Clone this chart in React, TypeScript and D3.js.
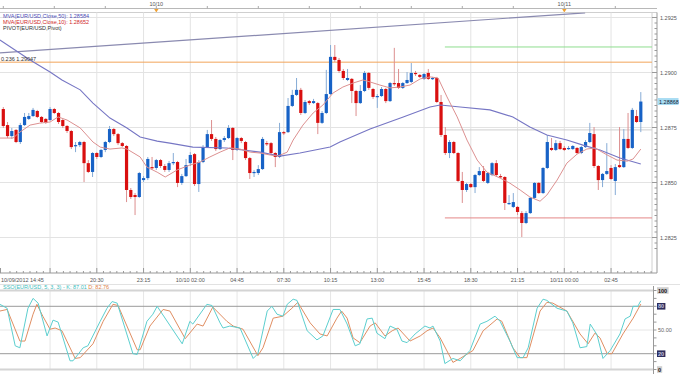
import React from 'react';
import * as d3 from 'd3';

// ---------- DATA (EUR/USD 15-min candles) ----------
const openP = [
  1.28834, 1.28761, 1.28711, 1.28739, 1.28684, 1.28761, 1.28789, 1.28802, 1.28825, 1.28798,
  1.28789, 1.28784, 1.28834, 1.28816, 1.28784, 1.28757, 1.28734, 1.28666, 1.28670, 1.28684,
  1.28588, 1.28548, 1.28634, 1.28616, 1.28648, 1.28684, 1.28743, 1.28720, 1.28679, 1.28666,
  1.28466, 1.28443, 1.28434, 1.28511, 1.28520, 1.28570, 1.28566, 1.28602, 1.28575, 1.28557,
  1.28588, 1.28593, 1.28498, 1.28529, 1.28588, 1.28629, 1.28493, 1.28593, 1.28661, 1.28720,
  1.28698, 1.28652, 1.28693, 1.28702, 1.28748, 1.28648, 1.28702, 1.28684, 1.28611, 1.28543,
  1.28543, 1.28561, 1.28679, 1.28679, 1.28634, 1.28616, 1.28729, 1.28729, 1.28848, 1.28898,
  1.28921, 1.28816, 1.28870, 1.28861, 1.28861, 1.28771, 1.28816, 1.28902, 1.29071, 1.29057,
  1.29007, 1.28966, 1.28971, 1.28916, 1.28861, 1.28916, 1.28998, 1.28925, 1.28889, 1.28893,
  1.28925, 1.28870, 1.28952, 1.28952, 1.28930, 1.28952, 1.28957, 1.28998, 1.28989, 1.28971,
  1.28998, 1.28971, 1.28975, 1.28866, 1.28716, 1.28634, 1.28684, 1.28634, 1.28507, 1.28466,
  1.28493, 1.28479, 1.28534, 1.28552, 1.28498, 1.28534, 1.28588, 1.28529, 1.28525, 1.28402,
  1.28389, 1.28389, 1.28361, 1.28316, 1.28361, 1.28430, 1.28498, 1.28452, 1.28566, 1.28657,
  1.28648, 1.28679, 1.28657, 1.28652, 1.28652, 1.28657, 1.28634, 1.28661, 1.28684, 1.28720,
  1.28575, 1.28511, 1.28539, 1.28566, 1.28507, 1.28579, 1.28570, 1.28698, 1.28657, 1.28802,
  1.28775,
];
const highP = [
  1.28843, 1.28775, 1.28748, 1.28743, 1.28771, 1.28816, 1.28816, 1.28839, 1.28830, 1.28802,
  1.28793, 1.28843, 1.28839, 1.28820, 1.28789, 1.28761, 1.28739, 1.28684, 1.28689, 1.28689,
  1.28602, 1.28638, 1.28638, 1.28652, 1.28689, 1.28757, 1.28748, 1.28725, 1.28684, 1.28670,
  1.28475, 1.28452, 1.28548, 1.28529, 1.28616, 1.28616, 1.28607, 1.28607, 1.28584, 1.28598,
  1.28634, 1.28598, 1.28539, 1.28607, 1.28638, 1.28634, 1.28602, 1.28670, 1.28739, 1.28784,
  1.28707, 1.28698, 1.28711, 1.28761, 1.28752, 1.28707, 1.28707, 1.28689, 1.28616, 1.28557,
  1.28579, 1.28707, 1.28689, 1.28684, 1.28638, 1.28771, 1.28734, 1.28884, 1.28921, 1.28975,
  1.28930, 1.28875, 1.28875, 1.28880, 1.28866, 1.28825, 1.29012, 1.29125, 1.29125, 1.29066,
  1.29016, 1.29016, 1.28975, 1.28921, 1.28943, 1.29007, 1.29002, 1.28930, 1.28902, 1.28934,
  1.28930, 1.28957, 1.29112, 1.29016, 1.28957, 1.29002, 1.29043, 1.29007, 1.28993, 1.28998,
  1.29016, 1.28980, 1.28980, 1.28898, 1.28752, 1.28693, 1.28689, 1.28638, 1.28548, 1.28498,
  1.28498, 1.28539, 1.28570, 1.28575, 1.28548, 1.28593, 1.28602, 1.28539, 1.28529, 1.28443,
  1.28452, 1.28393, 1.28370, 1.28370, 1.28434, 1.28502, 1.28502, 1.28570, 1.28716, 1.28702,
  1.28693, 1.28689, 1.28666, 1.28666, 1.28670, 1.28661, 1.28666, 1.28693, 1.28771, 1.28752,
  1.28579, 1.28543, 1.28679, 1.28579, 1.28584, 1.28752, 1.28743, 1.28816, 1.28839, 1.28830,
  1.28911,
];
const lowP = [
  1.28748, 1.28702, 1.28698, 1.28679, 1.28675, 1.28757, 1.28784, 1.28798, 1.28793, 1.28771,
  1.28766, 1.28780, 1.28811, 1.28766, 1.28748, 1.28725, 1.28652, 1.28638, 1.28661, 1.28502,
  1.28543, 1.28525, 1.28607, 1.28611, 1.28638, 1.28679, 1.28711, 1.28670, 1.28661, 1.28411,
  1.28425, 1.28352, 1.28430, 1.28502, 1.28511, 1.28557, 1.28557, 1.28566, 1.28548, 1.28548,
  1.28579, 1.28479, 1.28489, 1.28525, 1.28575, 1.28484, 1.28457, 1.28588, 1.28657, 1.28689,
  1.28643, 1.28648, 1.28684, 1.28698, 1.28602, 1.28643, 1.28679, 1.28602, 1.28516, 1.28525,
  1.28534, 1.28557, 1.28666, 1.28625, 1.28570, 1.28611, 1.28716, 1.28725, 1.28843, 1.28893,
  1.28807, 1.28811, 1.28852, 1.28857, 1.28720, 1.28766, 1.28811, 1.28898, 1.29048, 1.28998,
  1.28966, 1.28961, 1.28861, 1.28802, 1.28857, 1.28911, 1.28921, 1.28880, 1.28839, 1.28889,
  1.28861, 1.28866, 1.28939, 1.28925, 1.28925, 1.28948, 1.28952, 1.28984, 1.28975, 1.28966,
  1.28966, 1.28966, 1.28861, 1.28707, 1.28625, 1.28611, 1.28629, 1.28502, 1.28407, 1.28457,
  1.28475, 1.28452, 1.28529, 1.28502, 1.28493, 1.28529, 1.28529, 1.28520, 1.28375, 1.28398,
  1.28384, 1.28352, 1.28252, 1.28311, 1.28357, 1.28425, 1.28448, 1.28448, 1.28561, 1.28643,
  1.28643, 1.28648, 1.28643, 1.28648, 1.28648, 1.28629, 1.28629, 1.28657, 1.28679, 1.28566,
  1.28466, 1.28479, 1.28534, 1.28511, 1.28443, 1.28566, 1.28566, 1.28652, 1.28652, 1.28771,
  1.28729,
];
const closeP = [
  1.28757, 1.28711, 1.28734, 1.28684, 1.28761, 1.28798, 1.28802, 1.28830, 1.28798, 1.28775,
  1.28771, 1.28834, 1.28816, 1.28775, 1.28757, 1.28734, 1.28661, 1.28670, 1.28684, 1.28588,
  1.28548, 1.28634, 1.28616, 1.28648, 1.28684, 1.28743, 1.28720, 1.28679, 1.28666, 1.28466,
  1.28434, 1.28434, 1.28543, 1.28520, 1.28607, 1.28566, 1.28602, 1.28575, 1.28557, 1.28588,
  1.28593, 1.28498, 1.28529, 1.28579, 1.28625, 1.28493, 1.28593, 1.28661, 1.28720, 1.28698,
  1.28652, 1.28693, 1.28702, 1.28748, 1.28648, 1.28702, 1.28689, 1.28611, 1.28543, 1.28548,
  1.28561, 1.28698, 1.28675, 1.28634, 1.28616, 1.28729, 1.28725, 1.28848, 1.28898, 1.28921,
  1.28816, 1.28866, 1.28861, 1.28870, 1.28771, 1.28816, 1.28902, 1.29071, 1.29057, 1.29007,
  1.28975, 1.28975, 1.28916, 1.28861, 1.28916, 1.28998, 1.28930, 1.28889, 1.28893, 1.28925,
  1.28870, 1.28952, 1.28948, 1.28930, 1.28952, 1.28966, 1.28998, 1.28993, 1.28980, 1.28993,
  1.28971, 1.28975, 1.28866, 1.28716, 1.28634, 1.28684, 1.28634, 1.28507, 1.28466, 1.28493,
  1.28479, 1.28534, 1.28552, 1.28507, 1.28543, 1.28588, 1.28534, 1.28525, 1.28407, 1.28407,
  1.28411, 1.28366, 1.28316, 1.28361, 1.28430, 1.28498, 1.28452, 1.28566, 1.28684, 1.28648,
  1.28679, 1.28652, 1.28648, 1.28657, 1.28666, 1.28634, 1.28661, 1.28684, 1.28725, 1.28575,
  1.28511, 1.28539, 1.28552, 1.28516, 1.28570, 1.28570, 1.28698, 1.28657, 1.28830, 1.28775,
  1.28868,
];

// moving averages: [candle index, price]
const ma50Pts = [
  [-0.8, 1.29148], [6.3, 1.29057], [11.0, 1.29002], [13.8, 1.28966], [18.1, 1.28921], [21.1, 1.28861],
  [25.1, 1.28793], [29.1, 1.28748], [32.2, 1.28707], [36.2, 1.28688], [39.2, 1.28679], [44.6, 1.28661],
  [52.6, 1.28657], [60.4, 1.28638], [65.1, 1.28620], [69.8, 1.28634], [76.9, 1.28661], [79.2, 1.28684],
  [86.3, 1.28743], [94.1, 1.28798], [100.4, 1.28843], [102.8, 1.28852], [107.5, 1.28843], [114.5, 1.28830],
  [119.9, 1.28798], [123.9, 1.28752], [127.9, 1.28716], [132.6, 1.28693], [136.4, 1.28670], [140.4, 1.28648],
  [145.1, 1.28611], [150, 1.28584],
];
const ma10Pts = [
  [-0.8, 1.28702], [2.3, 1.28702], [3.9, 1.28729], [6.3, 1.28761], [8.6, 1.2877], [11.0, 1.28775],
  [12.9, 1.28798], [15.0, 1.28784], [18.1, 1.28748], [21.1, 1.28684], [22.8, 1.28661], [25.1, 1.28652],
  [27.9, 1.28657], [29.1, 1.28652], [32.2, 1.28616], [33.8, 1.2857], [36.2, 1.28547], [38.1, 1.28525],
  [40.9, 1.28557], [43.9, 1.28579], [46.3, 1.28593], [48.6, 1.28616], [51.0, 1.28638], [53.3, 1.28657],
  [55.7, 1.28652], [58.1, 1.28638], [60.4, 1.28634], [62.8, 1.28625], [64.6, 1.2862], [66.8, 1.28638],
  [68.2, 1.28693], [70.5, 1.28761], [72.9, 1.28816], [75.2, 1.28852], [77.6, 1.28907], [79.9, 1.28934],
  [82.3, 1.28952], [84.6, 1.28966], [86.3, 1.28957], [88.6, 1.28943], [91.0, 1.2893], [93.3, 1.28934],
  [95.7, 1.28943], [98.1, 1.28971], [100.4, 1.2898], [102.3, 1.28975], [104.4, 1.28889], [106.8, 1.28798],
  [109.1, 1.28693], [111.5, 1.28602], [113.8, 1.28547], [116.9, 1.2852], [119.2, 1.28497], [121.6, 1.28466],
  [123.9, 1.28434], [126.3, 1.28415], [127.9, 1.28443], [130.3, 1.28511], [132.6, 1.28588], [135.0, 1.28629],
  [137.3, 1.28652], [139.2, 1.28657], [142.1, 1.28625], [144.4, 1.28602], [146.8, 1.28597], [148.2, 1.28607],
  [150, 1.28652],
];

// slow stochastic (5,3,3): [candle index, value]
const stochK = [
  [-0.8, 82.5], [0.9, 77.5], [2.8, 30], [3.9, 27.5], [5.8, 77.5], [7.0, 90], [8.2, 84], [10.3, 42.5],
  [11.7, 62.5], [12.9, 60], [15.7, 11], [16.4, 11], [18.8, 27.5], [19.9, 30], [22.8, 61], [24.4, 77.5],
  [25.6, 86], [26.8, 84], [30.5, 20], [31.5, 19], [33.8, 61], [35.2, 70], [36.2, 80], [42.1, 32.5],
  [43.9, 61], [44.6, 57.5], [47.9, 82.5], [49.1, 81], [51.0, 59], [51.7, 52.5], [53.3, 55], [55.7, 52.5],
  [58.8, 14], [59.9, 20], [62.1, 74], [63.2, 80], [64.4, 70], [65.8, 67.5], [66.8, 82.5], [68.2, 89],
  [69.1, 87.5], [71.5, 49], [73.8, 37.5], [75.2, 42.5], [77.6, 76], [79.2, 76], [80.9, 57.5], [82.8, 30],
  [83.9, 32.5], [85.6, 64], [86.8, 65], [87.9, 46], [89.8, 39], [91.0, 55], [92.6, 51], [93.8, 36],
  [95.0, 34], [96.9, 45], [99.2, 55], [100.4, 52.5], [101.1, 55], [102.8, 36], [103.9, 7.5], [105.8, 14],
  [107.5, 11], [109.8, 24], [112.2, 57.5], [113.8, 61], [115.7, 67.5], [116.9, 61], [119.2, 36], [120.9, 15],
  [122.3, 15], [123.5, 27.5], [125.6, 77.5], [127.0, 89], [127.9, 87.5], [130.3, 77.5], [132.6, 74], [134.0, 59],
  [135.7, 27.5], [137.3, 29], [138.1, 57.5], [139.7, 44], [141.1, 14], [142.8, 24], [145.1, 45], [146.3, 64],
  [147.5, 67.5], [148.2, 80], [149.3, 80], [150, 87.01],
];
const stochD = [
  [-0.8, 74], [0.9, 76], [3.9, 36], [5.1, 36], [7.0, 70], [7.9, 82.5], [9.3, 67.5], [11.0, 51],
  [12.2, 52.5], [13.8, 49], [16.9, 14], [18.1, 15], [21.1, 32.5], [23.5, 61], [25.8, 82.5], [27.0, 81],
  [31.5, 25], [32.2, 25], [34.5, 55], [37.6, 76], [39.2, 74], [42.8, 39], [45.6, 57.5], [47.0, 55],
  [49.3, 79], [52.6, 61], [54.1, 55], [56.4, 51], [59.9, 17.5], [61.1, 27.5], [63.5, 65], [65.8, 67.5],
  [67.9, 77.5], [69.3, 85], [72.2, 59], [74.5, 45], [76.2, 42.5], [78.5, 65], [79.6, 74], [80.9, 65],
  [82.3, 40], [83.9, 34], [86.3, 55], [87.5, 59], [89.8, 42.5], [91.5, 49], [92.9, 52.5], [95.7, 36],
  [98.1, 42.5], [99.7, 49], [101.1, 52.5], [102.8, 40], [105.8, 9], [107.5, 14], [110.5, 24], [112.9, 49],
  [116.2, 64], [117.3, 61], [119.9, 27.5], [121.6, 15], [123.2, 15], [126.3, 74], [127.9, 85], [129.3, 84],
  [132.6, 74], [135.7, 45], [137.6, 32.5], [139.2, 46], [140.4, 40], [142.1, 20], [143.2, 20], [145.8, 45],
  [148.2, 65], [150, 82.76],
];

const trendPts = [[-0.8, 1.29089], [136.9, 1.29271]];
const fibLevel = 1.29047;
const pivotPP = 1.28739;
const pivotR1 = 1.29116;
const pivotS1 = 1.28339;
const pivotStartIdx = 103.9;

const priceTicks = [1.2825, 1.285, 1.2875, 1.29, 1.2925];
const xTickIdx = [22, 33, 44, 55, 66, 77, 88, 99, 110, 121, 132, 143];
const xTickLabels = ['20:30', '23:15', '10/10 02:00', '04:45', '07:30', '10:15', '13:00', '15:45', '18:30', '21:15', '10/11 00:00', '02:45'];
const firstLabel = '10/09/2012 14:45';
const dayIdx = [36, 132];
const dayLabels = ['10/10', '10/11'];
const stochLevels = [100, 80, 50, 20, 0];

const ma50Value = 1.28584;
const ma10Value = 1.28652;

const FONT = 'Liberation Sans, Arial, sans-serif';

export default function App() {
  const W = 680, H = 374;
  const plotR = 652, axisX = 657, plotT = 12.5, plotB = 273;
  const x = d3.scaleLinear().domain([0, 150]).range([3.3, 640.8]);
  const y = d3.scaleLinear().domain([1.2825, 1.2925]).range([237.5, 17.5]);
  const ys = d3.scaleLinear().domain([0, 100]).range([369.5, 290.5]);
  const n = closeP.length;

  const priceLine = d3.line<number[]>().x(d => x(d[0])).y(d => y(d[1]));
  const stochLine = d3.line<number[]>().x(d => x(d[0])).y(d => ys(d[1]));

  const gridIdx = d3.range(11, 150, 11);
  const minorPrice = d3.range(0, 45).map(k => 1.2820 + k * 0.00025).filter(p => y(p) > plotT && y(p) < plotB);
  const minorX: number[] = [];
  for (let k = 0; k < 14; k++) for (let j = 1; j < 7; j++) minorX.push(k * 11 + (j * 11) / 7);
  const topTicks = d3.range(0, 151, 12);
  const stochTicks = d3.range(0, 101, 10);
  const lastClose = closeP[n - 1];

  return (
    <svg width={W} height={H} style={{ position: 'absolute', left: 0, top: 0, background: '#fff' }} fontFamily={FONT}>
      <defs>
        <clipPath id="mainClip"><rect x={0} y={plotT} width={plotR} height={plotB - plotT} /></clipPath>
        <clipPath id="stochClip"><rect x={0} y={285} width={653} height={89} /></clipPath>
      </defs>
      <rect x={0} y={0} width={W} height={H} fill="#fff" />

      {/* top time strip */}
      <line x1={0} x2={axisX} y1={8.5} y2={8.5} stroke="#b8b8b8" />
      {topTicks.map(i => (
        <line key={'tt' + i} x1={x(i)} x2={x(i)} y1={6} y2={8.5} stroke="#aaa" />
      ))}
      {dayIdx.map((i, k) => (
        <g key={'day' + k}>
          <text x={x(i)} y={6} fontSize={5.5} textAnchor="middle" fill="#555">{dayLabels[k]}</text>
          <path d={`M${x(i) - 2.2},9 L${x(i) + 2.2},9 L${x(i)},12.5 Z`} fill="#f0a030" />
        </g>
      ))}

      {/* main panel grid */}
      <line x1={0} x2={axisX} y1={plotT} y2={plotT} stroke="#cfcfcf" />
      {priceTicks.map(p => (
        <line key={'hg' + p} x1={0} x2={plotR} y1={y(p)} y2={y(p)} stroke="#e3e3e3" />
      ))}
      {gridIdx.map(i => (
        <line key={'vg' + i} x1={x(i)} x2={x(i)} y1={plotT} y2={plotB} stroke="#e3e3e3" />
      ))}
      <line x1={plotR} x2={plotR} y1={plotT} y2={plotB} stroke="#d0d0d0" />

      <g clipPath="url(#mainClip)">
        {/* fib + pivot levels */}
        <line x1={0} x2={plotR} y1={y(fibLevel)} y2={y(fibLevel)} stroke="#f2a55a" strokeWidth={1} />
        <line x1={x(pivotStartIdx)} x2={plotR} y1={y(pivotR1)} y2={y(pivotR1)} stroke="#8fdd8f" />
        <line x1={x(pivotStartIdx)} x2={plotR} y1={y(pivotPP)} y2={y(pivotPP)} stroke="#cfcfcf" />
        <line x1={x(pivotStartIdx)} x2={plotR} y1={y(pivotS1)} y2={y(pivotS1)} stroke="#e58888" />
        {/* trend line */}
        <path d={priceLine(trendPts) || ''} fill="none" stroke="#8a8ab0" strokeWidth={1.2} />

        {/* candles */}
        {closeP.map((c, i) => {
          const o = openP[i];
          const up = c >= o;
          const cx = x(i);
          const top = y(Math.max(o, c));
          const bot = y(Math.min(o, c));
          return (
            <g key={'c' + i}>
              <line x1={cx} x2={cx} y1={y(highP[i])} y2={y(lowP[i])} stroke={up ? '#86acd6' : '#dc8f8f'} strokeWidth={1} />
              <rect x={cx - 1.6} y={top} width={3.2} height={Math.max(1.2, bot - top)} fill={up ? '#1762c6' : '#d90f0f'} />
            </g>
          );
        })}

        {/* moving averages */}
        <path d={priceLine(ma50Pts) || ''} fill="none" stroke="#7676c4" strokeWidth={1.1} />
        <path d={priceLine(ma10Pts) || ''} fill="none" stroke="#dc9090" strokeWidth={1} />
      </g>

      {/* legend */}
      <text x={3} y={17.5} fontSize={5.5} fill="#4a4ab5">MVA(EUR/USD,Close,50): {ma50Value.toFixed(5)}</text>
      <text x={3} y={23.5} fontSize={5.5} fill="#d02828">MVA(EUR/USD,Close,10): {ma10Value.toFixed(5)}</text>
      <text x={3} y={29.5} fontSize={5.5} fill="#333">PIVOT(EUR/USD,Pivot)</text>
      <text x={1} y={60.5} fontSize={5.5} fill="#333">0.236 {fibLevel.toFixed(5)}</text>

      {/* right price axis */}
      <line x1={axisX} x2={axisX} y1={plotT} y2={plotB} stroke="#999" />
      {minorPrice.map(p => (
        <line key={'mp' + p} x1={axisX - 2.5} x2={axisX} y1={y(p)} y2={y(p)} stroke="#999" />
      ))}
      {priceTicks.map(p => (
        <g key={'pt' + p}>
          <line x1={plotR} x2={axisX} y1={y(p)} y2={y(p)} stroke="#999" />
          <text x={660} y={y(p) + 2} fontSize={5.5} fill="#555">{p.toFixed(4)}</text>
        </g>
      ))}
      <rect x={657.5} y={y(lastClose) - 3.5} width={21} height={7} fill="#a8dcf3" />
      <text x={659} y={y(lastClose) + 2} fontSize={5.5} fill="#123">{lastClose.toFixed(5)}</text>

      {/* bottom time axis */}
      <line x1={0} x2={axisX} y1={plotB} y2={plotB} stroke="#999" />
      {minorX.filter(i => x(i) < plotR).map((i, k) => (
        <line key={'mx' + k} x1={x(i)} x2={x(i)} y1={plotB - 2} y2={plotB} stroke="#999" />
      ))}
      {gridIdx.map(i => (
        <line key={'MX' + i} x1={x(i)} x2={x(i)} y1={plotB - 5} y2={plotB} stroke="#999" />
      ))}
      <line x1={0.5} x2={0.5} y1={plotB - 5} y2={plotB} stroke="#999" />
      <text x={1} y={281.5} fontSize={5.5} fill="#555">{firstLabel}</text>
      {xTickIdx.map((i, k) => (
        <text key={'xl' + k} x={x(i)} y={281.5} fontSize={5.5} textAnchor="middle" fill="#555">{xTickLabels[k]}</text>
      ))}

      {/* stochastic panel */}
      <line x1={0} x2={W} y1={284.5} y2={284.5} stroke="#e2e2e2" />
      {gridIdx.map(i => (
        <line key={'svg' + i} x1={x(i)} x2={x(i)} y1={290.5} y2={369.5} stroke="#e6e6e6" />
      ))}
      <line x1={0} x2={653} y1={ys(50)} y2={ys(50)} stroke="#e6e6e6" />
      <line x1={0} x2={653} y1={ys(100)} y2={ys(100)} stroke="#d4d4d4" strokeWidth={2} />
      <line x1={0} x2={653} y1={ys(0)} y2={ys(0)} stroke="#d4d4d4" strokeWidth={2} />
      <line x1={0} x2={653} y1={ys(80)} y2={ys(80)} stroke="#9a9a9a" />
      <line x1={0} x2={653} y1={ys(20)} y2={ys(20)} stroke="#9a9a9a" />
      <g clipPath="url(#stochClip)">
        <path d={stochLine(stochD) || ''} fill="none" stroke="#e08e62" strokeWidth={1} />
        <path d={stochLine(stochK) || ''} fill="none" stroke="#5ccfcf" strokeWidth={1} />
      </g>
      <text x={3} y={289} fontSize={5.5}>
        <tspan fill="#3dbdbd">SSO(EUR/USD, 5, 3, 3) - K: {stochK[stochK.length - 1][1].toFixed(2)}</tspan>
        <tspan fill="#e07f45"> D: {stochD[stochD.length - 1][1].toFixed(2)}</tspan>
      </text>
      <line x1={653.5} x2={653.5} y1={286} y2={374} stroke="#999" />
      {stochTicks.map(v => (
        <line key={'st' + v} x1={653.5} x2={656.5} y1={ys(v)} y2={ys(v)} stroke="#999" />
      ))}
      {stochLevels.map(v => {
        const dark = v === 80 || v === 20;
        const lbl = v === 50 ? '50.00' : String(v);
        if (v === 50) {
          return <text key={'sl' + v} x={658} y={ys(v) + 2} fontSize={5.5} fill="#666">{lbl}</text>;
        }
        const w = lbl.length * 3.2 + 2;
        return (
          <g key={'sl' + v}>
            <rect x={657} y={ys(v) - 3.3} width={w} height={6.6} fill={dark ? '#2d2d5c' : '#cfcfcf'} />
            <text x={658} y={ys(v) + 2} fontSize={5.5} fontWeight="bold" fill={dark ? '#c8c8e0' : '#111'}>{lbl}</text>
          </g>
        );
      })}
    </svg>
  );
}
